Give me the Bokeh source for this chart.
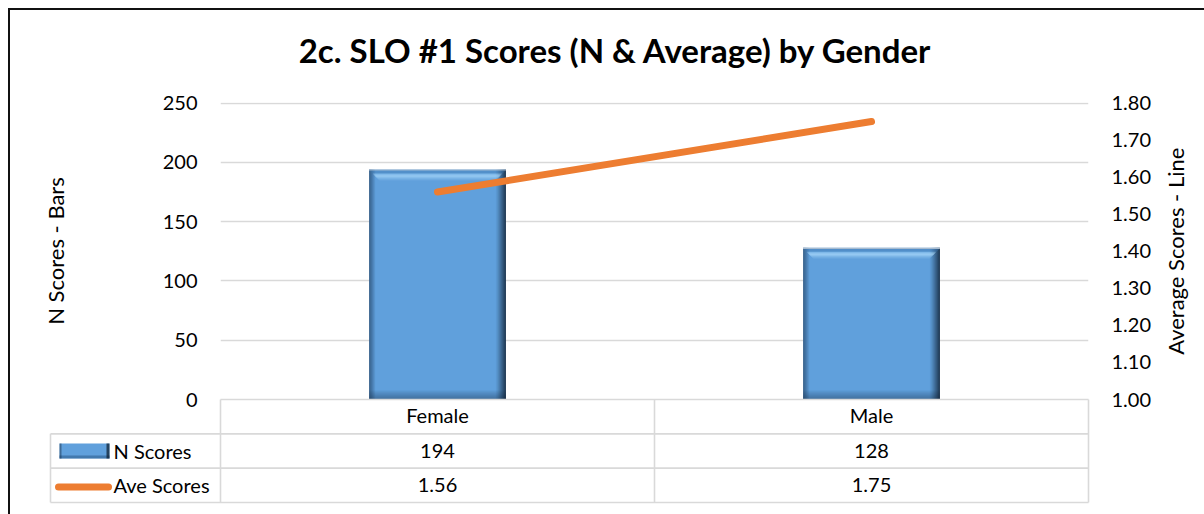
import numpy as np
from bokeh.plotting import figure
from bokeh.models import (ColumnDataSource, Range1d, LinearAxis, FixedTicker,
                          PrintfTickFormatter, FactorRange)
from bokeh.transform import dodge
from bokeh.layouts import column, row
from bokeh.core.properties import value
from bokeh.embed import file_html
from bokeh.resources import INLINE

# ---------------- data ----------------
categories = ["Female", "Male"]
n_scores = [194, 128]
ave_scores = [1.56, 1.75]
left_ticks = [0, 50, 100, 150, 200, 250]
right_ticks = [1.00, 1.10, 1.20, 1.30, 1.40, 1.50, 1.60, 1.70, 1.80]
series_names = ["N Scores", "Ave Scores"]
title_text = "2c. SLO #1 Scores (N & Average) by  Gender"
left_label = "N Scores - Bars"
right_label = "Average Scores - Line"

# ---------------- style / layout ----------------
FONT = "Lato"
FS = "20px"
FS_AX = "22px"
BLUE = "#60a0dc"
ORANGE = "#ed7d31"
GRID = "#d9d9d9"
TXT = "#000000"

ORIGIN = 10            # page px where figures start (8px margin + 2px border)
FIG_W = 1194
TITLE_H = 70
P1_TOP = ORIGIN + TITLE_H
P1_RIGHT = 1160
P3_W = 36
FRAME_L, FRAME_R = 220, 1088
FRAME_T, FRAME_B = 102, 399
P1_BOTTOM = 411
CAT_PX = (FRAME_R - FRAME_L) / len(categories)   # px per category
PXU = 296.5 / (left_ticks[-1] - left_ticks[0])    # px per N unit
PXA = 296.5 / (right_ticks[-1] - right_ticks[0])  # px per Ave unit
PX = 1.0 / CAT_PX
PY = 1.0 / PXU
BAR_W = 0.315

common = dict(output_backend="svg", toolbar_location=None, frame_align=False)

# ---------------- title strip ----------------
p0 = figure(width=FIG_W, height=TITLE_H, x_range=Range1d(ORIGIN, ORIGIN + FIG_W),
            y_range=Range1d(ORIGIN + TITLE_H, ORIGIN),
            min_border=0, x_axis_location=None, y_axis_location=None, **common)
p0.outline_line_color = None
p0.grid.visible = False
p0.text(x=[619], y=[49], text=[title_text], text_font=value(FONT),
        text_font_style="bold", text_font_size=value("33px"), text_color=TXT,
        text_align="center", text_baseline="middle")

# ---------------- top figure: bars + line ----------------
y_end = left_ticks[0] + (FRAME_B - FRAME_T) / PXU
a_end = right_ticks[0] + (FRAME_B - FRAME_T) / PXA

p1 = figure(width=P1_RIGHT - ORIGIN, height=P1_BOTTOM - P1_TOP,
            x_range=FactorRange(*categories), y_range=Range1d(left_ticks[0], y_end),
            min_border_left=FRAME_L - ORIGIN, min_border_right=P1_RIGHT - FRAME_R,
            min_border_top=FRAME_T - P1_TOP, min_border_bottom=P1_BOTTOM - FRAME_B,
            x_axis_location=None, **common)
p1.outline_line_color = None
for g in p1.grid:
    if g.dimension == 0:
        g.visible = False

ya = p1.yaxis[0]
ya.ticker = FixedTicker(ticks=left_ticks)
ya.axis_line_color = None
ya.major_tick_line_color = None
ya.minor_tick_line_color = None
ya.major_tick_out = 0
ya.major_tick_in = 0
ya.major_label_standoff = 23
ya.major_label_text_font = FONT
ya.major_label_text_font_size = FS
ya.major_label_text_color = TXT
ya.axis_label = left_label
ya.axis_label_text_font = FONT
ya.axis_label_text_font_size = FS_AX
ya.axis_label_text_font_style = "normal"
ya.axis_label_text_color = TXT
ya.axis_label_standoff = 91

p1.ygrid.grid_line_color = GRID
p1.ygrid.grid_line_width = 1.3

p1.extra_y_ranges = {"ave": Range1d(right_ticks[0], a_end)}
ra = LinearAxis(y_range_name="ave", ticker=FixedTicker(ticks=right_ticks),
                formatter=PrintfTickFormatter(format="%.2f"))
ra.axis_line_color = None
ra.major_tick_line_color = None
ra.minor_tick_line_color = None
ra.major_tick_out = 0
ra.major_tick_in = 0
ra.major_label_standoff = 23
ra.major_label_text_font = FONT
ra.major_label_text_font_size = FS
ra.major_label_text_color = TXT
p1.add_layout(ra, "right")

src = ColumnDataSource(dict(cat=categories, n=n_scores, ave=ave_scores))
n_arr = np.array(n_scores, dtype=float)

# main bar body
p1.vbar(x="cat", top="n", bottom=0, width=BAR_W, source=src,
        fill_color=BLUE, line_color=None)


def strip(dx_px, w_px, top, bottom, color, alpha):
    s = ColumnDataSource(dict(cat=categories, top=list(top), bottom=list(bottom)))
    p1.vbar(x=dodge("cat", dx_px * PX, range=p1.x_range), width=w_px * PX,
            top="top", bottom="bottom", source=s,
            fill_color=color, fill_alpha=alpha, line_color=None)


half = BAR_W * CAT_PX / 2.0
zeros = np.zeros_like(n_arr)
# bottom shading
for k in range(9):
    strip(0, 2 * half, zeros + (k + 1) * PY, zeros + k * PY, "#1a3350", 0.5 * (1 - k / 9.0))
# left shading
for k in range(6):
    strip(-half + k + 0.5, 1, n_arr, zeros, "#1a3350", 0.6 * (1 - k / 6.0))
# right shading
for k in range(10):
    strip(half - k - 0.5, 1, n_arr, zeros, "#0c1a2a", 0.85 * (1 - k / 10.0) ** 1.3)
# top bevel: outline, darker band, highlight band
strip(0, 2 * half, n_arr, n_arr - 1.2 * PY, "#b4c4d4", 1.0)
for k in range(1, 4):
    strip(0, 2 * half - 2 * k, n_arr - k * PY, n_arr - (k + 1) * PY, "#3f78b0", 0.45)
hl = [0.35, 0.6, 0.75, 0.6, 0.4, 0.25, 0.12]
for j, a in enumerate(hl):
    k = 4 + j
    strip(0, 2 * half - 2 * k, n_arr - k * PY, n_arr - (k + 1) * PY, "#b5e2ff", a)

# average line
p1.line(x="cat", y="ave", source=src, y_range_name="ave",
        line_color=ORANGE, line_width=7, line_cap="round")

# ---------------- right axis title (reads bottom-to-top) ----------------
p3 = figure(width=P3_W, height=P1_BOTTOM - P1_TOP, x_range=Range1d(0, 1),
            y_range=p1.y_range, min_border_left=0, min_border_right=0,
            min_border_top=FRAME_T - P1_TOP, min_border_bottom=P1_BOTTOM - FRAME_B,
            x_axis_location=None, y_axis_location=None, **common)
p3.outline_line_color = None
p3.grid.visible = False
p3.text(x=[0.42], y=[(left_ticks[0] + left_ticks[-1]) / 2.0], text=[right_label],
        angle=np.pi / 2, text_font=value(FONT), text_font_size=value(FS_AX),
        text_color=TXT, text_align="center", text_baseline="middle")

# ---------------- bottom figure: data table ----------------
TBL_T, TBL_B = 399, 502
ROW_H = (TBL_B - TBL_T) / 3.0
P2_T, P2_B = 397, 514
LEG_L = 50
fx0, fx1 = 48, 1090
x_lo = (fx0 - FRAME_L) / CAT_PX
x_hi = (fx1 - FRAME_R) / CAT_PX + len(categories)
y_top = (P2_T - TBL_T) / ROW_H
y_bot = (504 - TBL_T) / ROW_H

p2 = figure(width=FIG_W, height=P2_B - P2_T,
            x_range=Range1d(x_lo, x_hi), y_range=Range1d(y_bot, y_top),
            min_border_left=fx0 - ORIGIN, min_border_right=ORIGIN + FIG_W - fx1,
            min_border_top=0, min_border_bottom=P2_B - 504,
            x_axis_location=None, y_axis_location=None,
            margin=(P2_T - P1_BOTTOM, 0, 0, 0), **common)
p2.outline_line_color = None
p2.background_fill_color = None
p2.border_fill_color = None
p2.grid.visible = False

nc = len(categories)
leg_x = (LEG_L - FRAME_L) / CAT_PX
# horizontal rules
hx0 = [0.0, leg_x, leg_x, leg_x]
hx1 = [float(nc)] * 4
hy = [0.0, 1.0, 2.0, 3.0]
p2.segment(x0=hx0, y0=hy, x1=hx1, y1=hy, line_color=GRID, line_width=1.6)
# vertical rules
vx = [leg_x] + [float(i) for i in range(nc + 1)]
vy0 = [1.0] + [0.0] * (nc + 1)
vy1 = [3.0] * (nc + 2)
p2.segment(x0=vx, y0=vy0, x1=vx, y1=vy1, line_color=GRID, line_width=1.6)

xs = [i + 0.5 for i in range(nc)]
txt_kw = dict(text_font=value(FONT), text_font_size=value(FS), text_color=TXT,
              text_baseline="middle")
p2.text(x=xs, y=[0.45] * nc, text=categories, text_align="center", **txt_kw)
p2.text(x=xs, y=[1.5] * nc, text=[str(v) for v in n_scores], text_align="center", **txt_kw)
p2.text(x=xs, y=[2.5] * nc, text=["%.2f" % v for v in ave_scores], text_align="center", **txt_kw)
lab_x = (113 - FRAME_L) / CAT_PX
p2.text(x=[lab_x, lab_x], y=[1.5, 2.5], text=series_names, text_align="left", **txt_kw)

# legend keys
kx0 = (59 - FRAME_L) / CAT_PX
kx1 = (109 - FRAME_L) / CAT_PX
ky = 7.5 / ROW_H
p2.quad(left=kx0, right=kx1, bottom=1.5 + ky, top=1.5 - ky, fill_color=BLUE, line_color=None)
p2.quad(left=kx0, right=kx1, bottom=1.5 + ky, top=1.5 + ky - 3 / ROW_H,
        fill_color="#2f5f8f", fill_alpha=0.6, line_color=None)
p2.quad(left=kx1 - 3 * PX, right=kx1, bottom=1.5 + ky, top=1.5 - ky,
        fill_color="#0c1a2a", fill_alpha=0.7, line_color=None)
p2.quad(left=kx0, right=kx0 + 2 * PX, bottom=1.5 + ky, top=1.5 - ky,
        fill_color="#1a3350", fill_alpha=0.5, line_color=None)
p2.line(x=[(58 - FRAME_L) / CAT_PX, (108 - FRAME_L) / CAT_PX], y=[2.55, 2.55],
        line_color=ORANGE, line_width=7, line_cap="round")

layout = column(p0, row(p1, p3), p2, margin=(8, 0, 0, 8),
                styles={"border-left": "2px solid #111", "border-top": "2px solid #111"})

open("out.html", "w").write(file_html(layout, INLINE))
